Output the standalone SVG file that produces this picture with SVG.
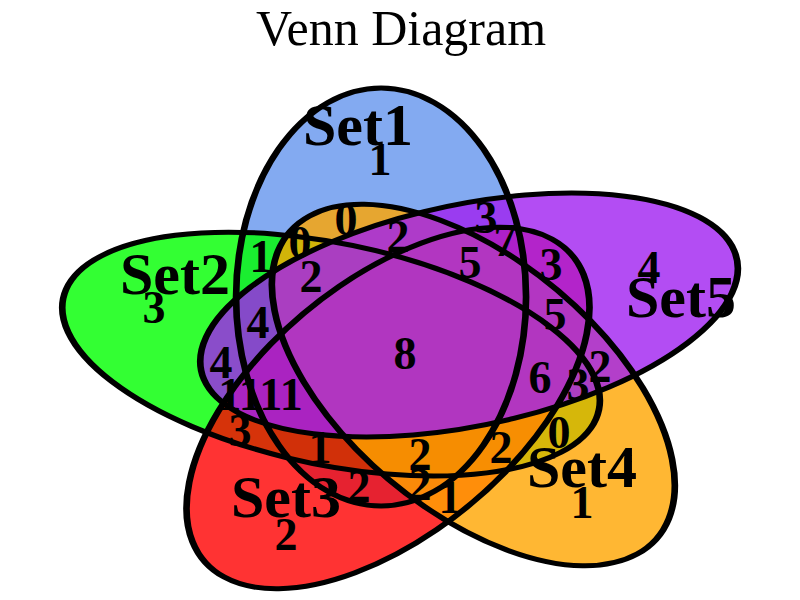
<svg xmlns="http://www.w3.org/2000/svg" width="800" height="600" viewBox="0 0 800 600">
<style>
.f{stroke:none;fill-opacity:0.8}
.o{fill:none;stroke:#000;stroke-width:5;vector-effect:non-scaling-stroke}
text{font-family:"Liberation Serif","Times New Roman",serif;fill:#000;text-anchor:middle}
.n{font-weight:bold;font-size:46px}
.s{font-weight:bold;font-size:60px}
.t{font-size:50px}
</style>
<rect width="800" height="600" fill="#fff"/>
<defs>
<ellipse id="e1" cx="285.8" cy="297" rx="108.75" ry="209"/>
<ellipse id="e2" cx="248.3" cy="354.1" rx="209" ry="108.75" transform="rotate(18 248.3 354.1)"/>
<ellipse id="e3" cx="291" cy="408" rx="209" ry="108.75" transform="rotate(-54 291 408)"/>
<ellipse id="e4" cx="355" cy="385" rx="209" ry="108.75" transform="rotate(54 355 385)"/>
<ellipse id="e5" cx="351.8" cy="315" rx="209" ry="108.75" transform="rotate(-18 351.8 315)"/>
</defs>
<g id="fills" transform="scale(1.333333,1)">
<use href="#e1" class="f" fill="#6495ED"/>
<use href="#e2" class="f" fill="#00FF00"/>
<use href="#e3" class="f" fill="#FF0000"/>
<use href="#e4" class="f" fill="#FFA500"/>
<use href="#e5" class="f" fill="#A020F0"/>
</g>
<g id="outlines" transform="scale(1.333333,1)">
<use href="#e1" class="o"/>
<use href="#e2" class="o"/>
<use href="#e3" class="o"/>
<use href="#e4" class="o"/>
<use href="#e5" class="o"/>
</g>
<text class="t" x="401" y="45">Venn Diagram</text>
<g id="set1"><text class="s" x="358" y="145">Set1</text><text class="n" x="380" y="175">1</text></g>
<g id="set2"><text class="s" x="175" y="294">Set2</text><text class="n" x="154" y="323">3</text></g>
<g id="set3"><text class="s" x="286" y="517">Set3</text><text class="n" x="286" y="550">2</text></g>
<g id="set4"><text class="s" x="582" y="487">Set4</text><text class="n" x="582" y="518">1</text></g>
<g id="set5"><text class="s" x="681" y="317">Set5</text><text class="n" x="649" y="283">4</text></g>
<g id="counts">
<text class="n" x="346" y="235">0</text>
<text class="n" x="300" y="258">0</text>
<text class="n" x="261" y="272">1</text>
<text class="n" x="398" y="252">2</text>
<text class="n" x="486" y="233">3</text>
<text class="n" x="505" y="256">7</text>
<text class="n" x="470" y="278">5</text>
<text class="n" x="551" y="280">3</text>
<text class="n" x="555" y="330">5</text>
<text class="n" x="311" y="292">2</text>
<text class="n" x="258" y="338">4</text>
<text class="n" x="221" y="378">4</text>
<text class="n" x="405" y="369">8</text>
<text class="n" x="540" y="393">6</text>
<text class="n" x="600" y="382">2</text>
<text class="n" x="578" y="400">3</text>
<text class="n" x="559" y="448">0</text>
<text class="n" x="501" y="463">2</text>
<text class="n" x="420" y="470">2</text>
<text class="n" x="420" y="500">2</text>
<text class="n" x="450" y="513">1</text>
<text class="n" x="359" y="502">2</text>
<text class="n" x="320" y="463">1</text>
<text class="n" x="240" y="446">3</text>
<text class="n" x="240" y="410">11</text>
<text class="n" x="281" y="410">11</text>
</g>
</svg>
